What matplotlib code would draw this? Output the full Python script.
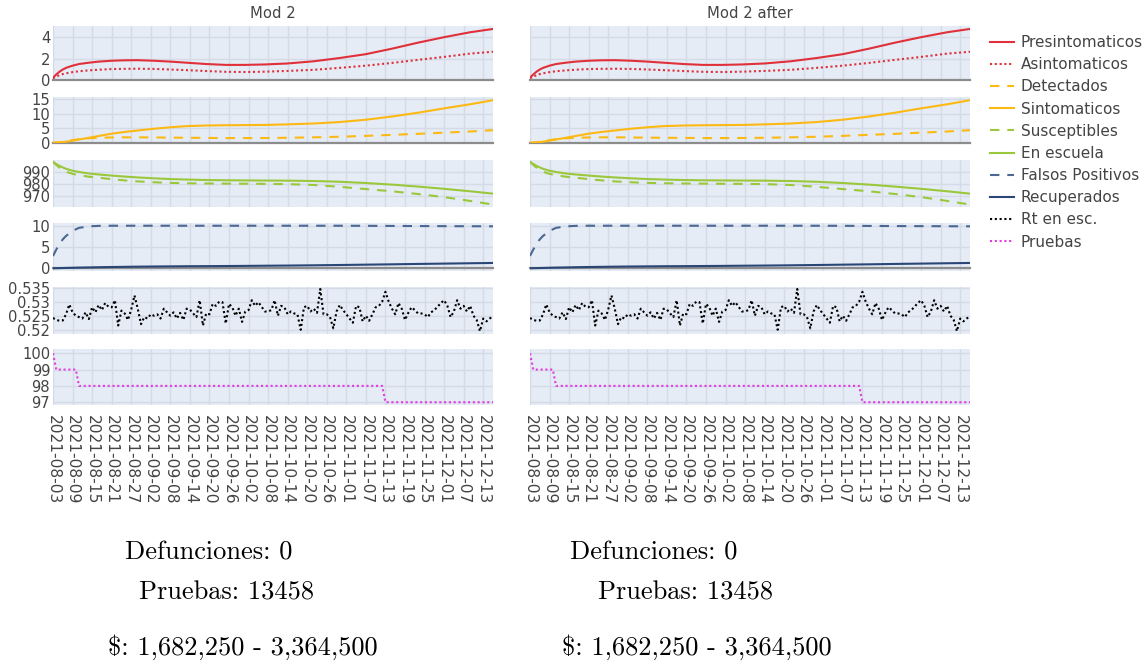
import numpy as np
import pandas as pd
import matplotlib
matplotlib.use('Agg')
import matplotlib.pyplot as plt
from matplotlib.lines import Line2D

# ---- datos ----
fechas = pd.date_range('2021-08-03', '2021-12-16', freq='D')
ticks = pd.date_range('2021-08-03', '2021-12-13', freq='6D')

# dias (desde 2021-08-03) en los que se leyeron las curvas suaves
dias = [0, 1, 2, 3, 4, 6, 8, 11, 14, 18, 22, 26, 31, 36, 41, 47, 53, 59, 65,
        72, 80, 88, 96, 104, 112, 120, 128, 135]

presintomaticos = [0.25, 0.55, 0.8, 1.0, 1.15, 1.35, 1.5, 1.62, 1.72, 1.8, 1.84,
                   1.85, 1.8, 1.72, 1.62, 1.5, 1.42, 1.42, 1.46, 1.55, 1.75,
                   2.05, 2.4, 2.9, 3.45, 3.95, 4.4, 4.7]
asintomaticos = [0.2, 0.35, 0.48, 0.58, 0.65, 0.76, 0.84, 0.92, 0.98, 1.04, 1.06,
                 1.07, 1.05, 1.0, 0.94, 0.86, 0.79, 0.77, 0.8, 0.87, 0.97,
                 1.15, 1.35, 1.6, 1.88, 2.15, 2.45, 2.62]
sintomaticos = [0.0, 0.05, 0.1, 0.2, 0.35, 0.7, 1.1, 1.7, 2.3, 3.1, 3.7, 4.2,
                4.8, 5.3, 5.7, 5.9, 6.0, 6.05, 6.1, 6.3, 6.6, 7.1, 7.9, 9.0,
                10.3, 11.8, 13.2, 14.6]
detectados = [0.0, 0.05, 0.15, 0.3, 0.5, 0.9, 1.2, 1.5, 1.7, 1.8, 1.85, 1.85,
              1.8, 1.75, 1.7, 1.65, 1.6, 1.6, 1.62, 1.7, 1.85, 2.05, 2.35,
              2.7, 3.05, 3.45, 3.85, 4.3]
en_escuela = [998.0, 996.3, 994.8, 993.5, 992.4, 990.8, 989.8, 988.6, 987.8,
              986.9, 986.1, 985.4, 984.7, 984.1, 983.7, 983.3, 983.1, 983.0,
              982.9, 982.8, 982.5, 981.9, 980.9, 979.6, 978.0, 976.2, 974.2,
              972.3]
susceptibles = [998.0, 995.5, 993.3, 991.5, 990.0, 988.3, 987.2, 986.0, 985.2,
                984.0, 983.0, 982.2, 981.5, 981.0, 980.7, 980.5, 980.4, 980.3,
                980.2, 980.0, 979.3, 977.8, 976.0, 974.2, 972.0, 969.5, 966.4,
                963.5]
falsos_positivos = [2.9, 4.4, 5.7, 6.8, 7.6, 8.8, 9.5, 9.85, 9.97, 10.0, 10.0,
                    10.0, 10.0, 10.0, 10.0, 10.0, 10.0, 10.0, 10.0, 10.0, 10.0,
                    10.0, 9.98, 9.95, 9.92, 9.9, 9.88, 9.86]
recuperados = [0.0, 0.02, 0.04, 0.06, 0.08, 0.12, 0.16, 0.2, 0.25, 0.3, 0.34,
               0.38, 0.42, 0.45, 0.48, 0.5, 0.53, 0.56, 0.6, 0.64, 0.7, 0.77,
               0.85, 0.93, 1.02, 1.1, 1.18, 1.25]

# Rt diario
rt_esc = [0.5242, 0.5235, 0.5232, 0.5233, 0.5255, 0.5290, 0.5262, 0.5250,
          0.5245, 0.5240, 0.5262, 0.5238, 0.5280, 0.5262, 0.5288, 0.5270,
          0.5295, 0.5282, 0.5280, 0.5305, 0.5215, 0.5268, 0.5258, 0.5235,
          0.5272, 0.5322, 0.5275, 0.5220, 0.5245, 0.5240, 0.5255, 0.5250,
          0.5255, 0.5240, 0.5275, 0.5262, 0.5250, 0.5262, 0.5240, 0.5260,
          0.5235, 0.5275, 0.5272, 0.5258, 0.5245, 0.5305, 0.5215, 0.5258,
          0.5255, 0.5292, 0.5285, 0.5300, 0.5298, 0.5222, 0.5292, 0.5280,
          0.5250, 0.5275, 0.5228, 0.5265, 0.5270, 0.5305, 0.5285, 0.5298,
          0.5282, 0.5265, 0.5265, 0.5270, 0.5305, 0.5250, 0.5285, 0.5280,
          0.5255, 0.5265, 0.5258, 0.5255, 0.5200, 0.5280, 0.5285, 0.5265,
          0.5275, 0.5260, 0.5345, 0.5255, 0.5255, 0.5245, 0.5205, 0.5265,
          0.5288, 0.5270, 0.5255, 0.5240, 0.5225, 0.5285, 0.5280, 0.5230,
          0.5250, 0.5232, 0.5255, 0.5280, 0.5285, 0.5300, 0.5335, 0.5300,
          0.5275, 0.5255, 0.5295, 0.5275, 0.5235, 0.5260, 0.5280, 0.5270,
          0.5258, 0.5258, 0.5255, 0.5245, 0.5262, 0.5270, 0.5282, 0.5295,
          0.5305, 0.5285, 0.5245, 0.5265, 0.5305, 0.5275, 0.5285, 0.5265,
          0.5285, 0.5250, 0.5235, 0.5195, 0.5240, 0.5230, 0.5240, 0.5248]

# pruebas: nivel y numero de dias en ese nivel
pruebas_nivel = [100, 99, 98, 97]
pruebas_duracion = [1, 7, 94, 34]
pruebas = np.repeat(pruebas_nivel, pruebas_duracion)

titulos = ['Mod 2', 'Mod 2 after']
textos = ['Defunciones: 0', 'Pruebas: 13458', '$: 1,682,250 - 3,364,500']

# ---- estilo ----
rojo = '#e0303a'
oro = '#fdb913'
verde = '#9ac83a'
azul_c = '#4b6793'
azul = '#2a4676'
magenta = '#e23be2'
dot = (1.0, 1.3)
dash = (4.5, 3.8)

xk = fechas[dias]
series = [  # fila, etiqueta, x, y, color, guiones
    (0, 'Presintomaticos', xk, presintomaticos, rojo, None),
    (0, 'Asintomaticos', xk, asintomaticos, rojo, dot),
    (1, 'Detectados', xk, detectados, oro, dash),
    (1, 'Sintomaticos', xk, sintomaticos, oro, None),
    (2, 'Susceptibles', xk, susceptibles, verde, dash),
    (2, 'En escuela', xk, en_escuela, verde, None),
    (3, 'Falsos Positivos', xk, falsos_positivos, azul_c, dash),
    (3, 'Recuperados', xk, recuperados, azul, None),
    (4, 'Rt en esc.', fechas, rt_esc, 'black', dot),
    (5, 'Pruebas', fechas, pruebas, magenta, dot),
]

W, H = 1148, 666
filas = [(26, 81), (97, 143), (160, 207), (223, 271), (287, 334), (349, 405)]
columnas = [(53, 493), (530, 970)]
ylims = [(-0.05, 4.97), (-0.1, 15.7), (961.5, 999.5), (-0.64, 10.64),
         (0.5185, 0.5352), (96.83, 100.26)]
yticks = [[0, 2, 4], [0, 5, 10, 15], [970, 980, 990], [0, 5, 10],
          [0.52, 0.525, 0.53, 0.535], [97, 98, 99, 100]]
ylabels = [['0', '2', '4'], ['0', '5', '10', '15'], ['970', '980', '990'],
           ['0', '5', '10'], ['0.52', '0.525', '0.53', '0.535'],
           ['97', '98', '99', '100']]

fondo = '#e5ecf6'
rejilla = '#d4dbe6'
gris = '#444444'
fs_tick = 10.6

fig = plt.figure(figsize=(W / 100, H / 100), dpi=100)

for c, (x0, x1) in enumerate(columnas):
    for r, (y0, y1) in enumerate(filas):
        ax = fig.add_axes([x0 / W, 1 - y1 / H, (x1 - x0) / W, (y1 - y0) / H])
        ax.set_facecolor(fondo)
        for s in ax.spines.values():
            s.set_visible(False)
        ax.set_xlim(fechas[0], fechas[-1])
        ax.set_ylim(*ylims[r])
        ax.set_xticks(ticks)
        ax.set_yticks(yticks[r])
        ax.grid(True, color=rejilla, lw=1.0, zorder=0)
        ax.set_axisbelow(True)
        ax.tick_params(length=0, labelsize=fs_tick, labelcolor=gris, pad=2)
        if c == 0:
            ax.set_yticklabels(ylabels[r], family='DejaVu Sans')
        else:
            ax.set_yticklabels([])
        if r == 5:
            ax.set_xticklabels([t.strftime('%Y-%m-%d') for t in ticks],
                               rotation=-90, family='DejaVu Sans',
                               fontsize=11.2)
            ax.tick_params(axis='x', pad=7)
        else:
            ax.set_xticklabels([])
        if r in (0, 1, 3):
            ax.axhline(0, color='#8c8c8c', lw=1.6, zorder=1, clip_on=False)
        for fila, lab, xs, ys, col, ds in series:
            if fila != r:
                continue
            ln, = ax.plot(xs, ys, color=col, lw=1.5, zorder=3)
            if ds is not None:
                ln.set_dashes(ds)
        if r == 0:
            ax.set_title(titulos[c], fontsize=10.6, color=gris,
                         family='DejaVu Sans', pad=6)

# leyenda
handles = []
for fila, lab, xs, ys, col, ds in series:
    h = Line2D([], [], color=col, lw=1.5, label=lab)
    if ds is not None:
        h.set_dashes(ds)
    handles.append(h)
leg = fig.legend(handles=handles, loc='upper left',
                 bbox_to_anchor=(990 / W, 1 - 35 / H), frameon=False,
                 prop={'family': 'DejaVu Sans', 'size': 11},
                 handlelength=1.6, handletextpad=0.4, labelspacing=0.47,
                 borderaxespad=0, borderpad=0)
for t in leg.get_texts():
    t.set_color(gris)

# textos inferiores
posiciones = [[(125, 553), (139, 593), (108, 647)],
              [(570, 553), (598, 593), (562, 647)]]
for col in posiciones:
    for (px, py), txt in zip(col, textos):
        fig.text(px / W, 1 - py / H, txt, family='cmr10', fontsize=19,
                 ha='left', va='center', color='black')

fig.savefig('out.png', dpi=100)
